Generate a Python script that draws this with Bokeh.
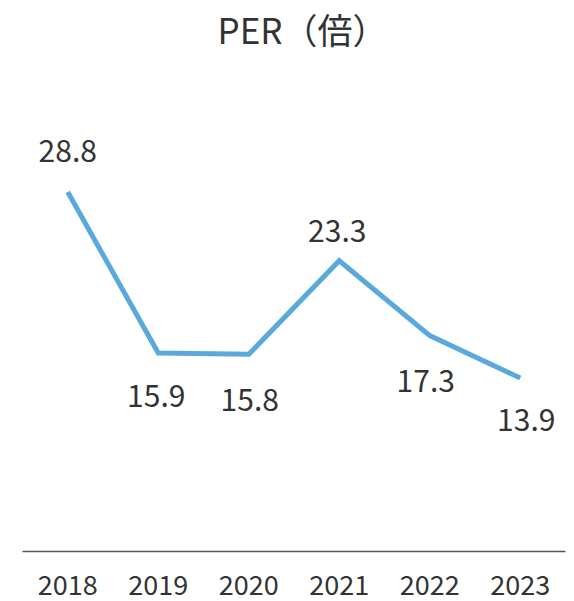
from bokeh.plotting import figure
from bokeh.models import ColumnDataSource, Range1d, FactorRange, Label
from bokeh.embed import file_html
from bokeh.resources import INLINE
from bokeh.core.properties import value

years = ["2018", "2019", "2020", "2021", "2022", "2023"]
per = [28.8, 15.9, 15.8, 23.3, 17.3, 13.9]
labels = ["28.8", "15.9", "15.8", "23.3", "17.3", "13.9"]
label_dy = [-41, 43, 46, -30, 45, 42]
label_dx = [0, -2, 1, -2, -4, 6]
title_text = "PER（倍）"

FONT = "Noto Sans CJK JP"
TXT = "#333333"
LINE = "#5aa9dc"

W, H = 566, 601
p = figure(width=W, height=H, output_backend="svg", toolbar_location=None,
           x_range=FactorRange(*years, range_padding=0),
           y_range=Range1d(0, 44.15),
           min_border_left=22, min_border_right=1, min_border_top=0,
           min_border_bottom=50)

p.add_layout(Label(x=2.155, y=41.9, text=title_text, text_align="left",
                   text_baseline="middle", text_font=FONT,
                   text_font_size="35px", text_color=TXT))

src = ColumnDataSource(dict(x=years, y=per, t=labels, dy=label_dy, dx=label_dx))
p.line("x", "y", source=src, line_color=LINE, line_width=5, line_join="miter")
p.text("x", "y", text="t", source=src, y_offset="dy", x_offset="dx",
       text_align="center", text_baseline="middle",
       text_font=value(FONT), text_font_size="30px", text_color=TXT)

p.yaxis.visible = False
p.xgrid.visible = False
p.ygrid.visible = False
p.outline_line_color = None
ax = p.xaxis[0]
ax.axis_line_color = "#555555"
ax.axis_line_width = 1.5
ax.major_tick_line_color = None
ax.minor_tick_line_color = None
ax.major_label_standoff = 17
ax.major_label_text_font = FONT
ax.major_label_text_font_size = "27px"
ax.major_label_text_color = TXT

open("out.html", "w").write(file_html(p, INLINE))
